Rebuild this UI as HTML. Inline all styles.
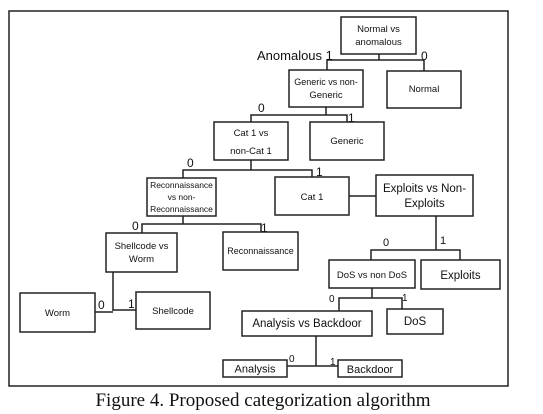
<!DOCTYPE html>
<html><head><meta charset="utf-8"><style>
html,body{margin:0;padding:0;background:#fff;}
svg{display:block;}
text{font-family:"Liberation Sans",sans-serif;fill:#111;}
.b{fill:#fff;stroke:#222;stroke-width:1.5;}
.l{stroke:#222;stroke-width:1.5;fill:none;}
.t{font-size:9.5px;text-anchor:middle;}
.n{font-size:12px;}
</style></head><body>
<svg width="543" height="414" viewBox="0 0 543 414">
<rect x="9" y="11" width="499" height="375" fill="none" stroke="#222" stroke-width="1.5"/>
<g>
<path class="l" d="M379 54V60M327 70V60H424V71"/>
<path class="l" d="M326 107V115M251 122V115H347V122"/>
<path class="l" d="M251 160V170M183 178V170H312V177"/>
<path class="l" d="M349 196H376"/>
<path class="l" d="M183 216V224M142 233V224H261V232"/>
<path class="l" d="M113 272V311M95 312H113M113 310H136"/>
<path class="l" d="M436 216V250M371 260V250H460V260"/>
<path class="l" d="M372 288V298M339 311V298H402V309"/>
<path class="l" d="M316 336V366M287 366H338"/>
</g>
<g><rect class="b" x="341" y="17" width="75" height="37"/><text class="t" x="378.5" y="32">Normal vs</text><text class="t" x="378.5" y="45">anomalous</text></g>
<g><rect class="b" x="289" y="70" width="74" height="37"/><text class="t" x="326" y="85" style="font-size:9px">Generic vs non-</text><text class="t" x="326" y="98">Generic</text></g>
<g><rect class="b" x="387" y="71" width="74" height="37"/><text class="t" x="424" y="92">Normal</text></g>
<g><rect class="b" x="214" y="122" width="74" height="38"/><text class="t" x="251" y="136">Cat 1 vs</text><text class="t" x="251" y="154">non-Cat 1</text></g>
<g><rect class="b" x="310" y="122" width="74" height="38"/><text class="t" x="347" y="144">Generic</text></g>
<g><rect class="b" x="147" y="178" width="69" height="38"/><text class="t" x="181.5" y="188" style="font-size:8.5px">Reconnaissance</text><text class="t" x="181.5" y="200" style="font-size:8.5px">vs non-</text><text class="t" x="181.5" y="212" style="font-size:8.5px">Reconnaissance</text></g>
<g><rect class="b" x="275" y="177" width="74" height="38"/><text class="t" x="312" y="200">Cat 1</text></g>
<g><rect class="b" x="376" y="175" width="97" height="41"/><text class="t" x="424.5" y="192" style="font-size:11.5px">Exploits vs Non-</text><text class="t" x="424.5" y="207" style="font-size:11.5px">Exploits</text></g>
<g><rect class="b" x="106" y="233" width="71" height="39"/><text class="t" x="141.5" y="249">Shellcode vs</text><text class="t" x="141.5" y="262">Worm</text></g>
<g><rect class="b" x="223" y="232" width="75" height="38"/><text class="t" x="260.5" y="254" style="font-size:9px">Reconnaissance</text></g>
<g><rect class="b" x="20" y="293" width="75" height="39"/><text class="t" x="57.5" y="316">Worm</text></g>
<g><rect class="b" x="136" y="292" width="74" height="37"/><text class="t" x="173" y="314">Shellcode</text></g>
<g><rect class="b" x="329" y="260" width="86" height="28"/><text class="t" x="372" y="278">DoS vs non DoS</text></g>
<g><rect class="b" x="421" y="260" width="79" height="29"/><text class="t" x="460.5" y="279" style="font-size:11.5px">Exploits</text></g>
<g><rect class="b" x="242" y="311" width="130" height="25"/><text class="t" x="307" y="327" style="font-size:11.5px">Analysis vs Backdoor</text></g>
<g><rect class="b" x="387" y="309" width="56" height="25"/><text class="t" x="415" y="325" style="font-size:11.5px">DoS</text></g>
<g><rect class="b" x="223" y="360" width="64" height="17"/><text class="t" x="255" y="372.5" style="font-size:11px">Analysis</text></g>
<g><rect class="b" x="338" y="360" width="64" height="17"/><text class="t" x="370" y="373" style="font-size:11px">Backdoor</text></g>
<g>
<text x="257" y="60" style="font-size:13px">Anomalous 1</text>
<text class="n" x="421" y="60">0</text>
<text class="n" x="258" y="112">0</text>
<text class="n" x="348" y="122">1</text>
<text class="n" x="187" y="167">0</text>
<text class="n" x="316" y="176">1</text>
<text class="n" x="132" y="230">0</text>
<text class="n" x="261" y="232">1</text>
<text class="n" x="98" y="309">0</text>
<text class="n" x="128" y="308">1</text>
<text x="383" y="246" style="font-size:11px">0</text>
<text x="440" y="244" style="font-size:11px">1</text>
<text x="329" y="302" style="font-size:10px">0</text>
<text x="402" y="301" style="font-size:10px">1</text>
<text x="289" y="362" style="font-size:10px">0</text>
<text x="330" y="365" style="font-size:10px">1</text>
</g>
<text x="263" y="406" text-anchor="middle" style="font-family:'Liberation Serif',serif;font-size:19px">Figure 4. Proposed categorization algorithm</text>
</svg>
</body></html>
